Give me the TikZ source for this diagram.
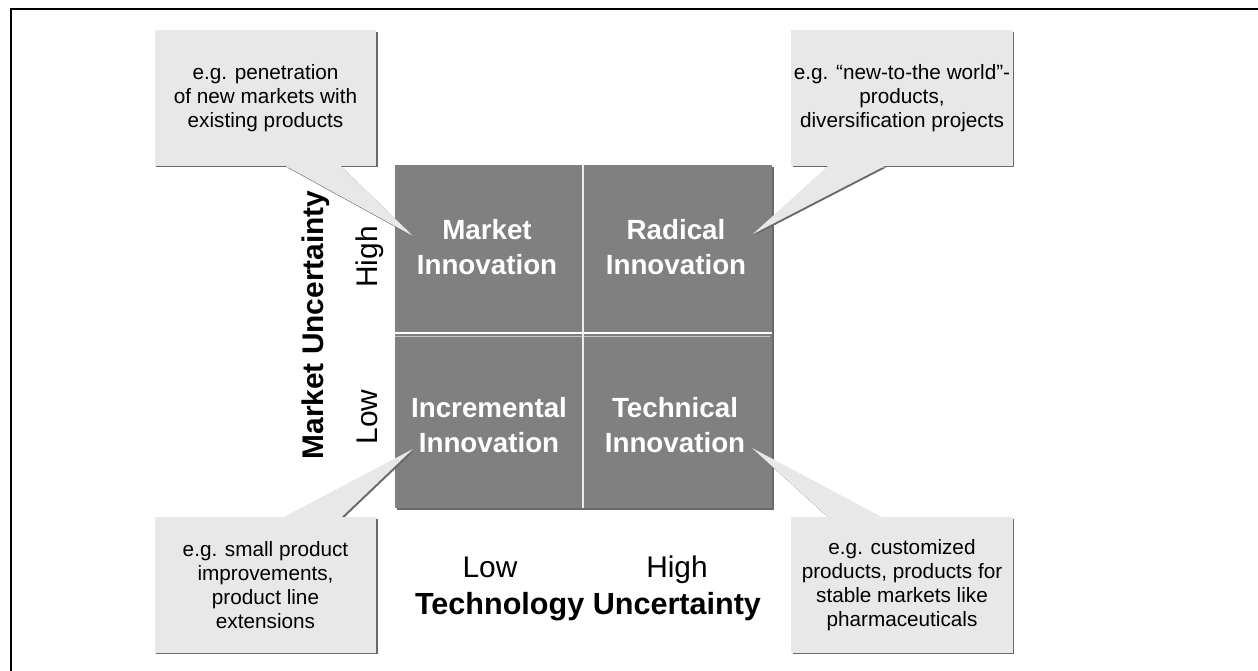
\documentclass[tikz,border=0pt]{standalone}
\usepackage{fontspec}
\setmainfont{Liberation Sans}
\usetikzlibrary{backgrounds,calc}
\definecolor{cellgray}{HTML}{808080}
\definecolor{notegray}{HTML}{E8E8E8}
\definecolor{shadegray}{HTML}{6A6A6A}
\definecolor{linegray}{HTML}{C4C4C4}
\tikzset{
  cell/.style={text=white, align=center,
    font=\fontsize{15.8}{19.8}\selectfont\bfseries},
  note/.style={align=center, minimum width=4.42cm, minimum height=2.7cm,
    inner sep=0pt, font=\fontsize{11.8}{13.6}\selectfont},
  axis/.style={font=\fontsize{17}{20}\selectfont},
  axis title/.style={font=\fontsize{17}{20}\selectfont\bfseries},
  shade/.style={fill=shadegray,
    transform canvas={xshift=0.03cm, yshift=-0.03cm}}
}

\begin{document}
\begin{tikzpicture}[x=0.02cm, y=-0.02cm]
\useasboundingbox (0,0) rectangle (1258,671);
\draw[line width=0.9pt] (11,671) -- (11,9) -- (1258,9);

% the four cells
\coordinate (nw) at (395,165);
\coordinate (se) at (772,508);
\coordinate (midW) at (395,333);
\coordinate (midE) at (772,333);
\coordinate (midN) at (583,165);
\coordinate (midS) at (583,508);
\node[cell] (mkt) at (487,247) {Market\\Innovation};
\node[cell] (rad) at (676,247) {Radical\\Innovation};
\node[cell] (inc) at (489,425) {Incremental\\Innovation};
\node[cell] (tec) at (675,425) {Technical\\Innovation};

% axes
\node[axis title, rotate=90, anchor=base] (mktAxis) at (323,325) {Market Uncertainty};
\node[axis, rotate=90, anchor=base] (mktHigh) at (377,257) {High};
\node[axis, rotate=90, anchor=base] (mktLow) at (377,417) {Low};
\node[axis, anchor=base] (tecLow) at (490,578) {Low};
\node[axis, anchor=base] (tecHigh) at (677,578) {High};
\node[axis title, font=\fontsize{17.4}{20}\selectfont\bfseries, anchor=base]
  (tecAxis) at (588,615) {Technology Uncertainty};

% callouts
\node[note] (tl) at (265.5,98) {e.g. penetration\\of new markets with\\existing products};
\node[note] (tr) at (902,98) {e.g. “new-to-the world”-\\products,\\diversification projects};
\node[note] (bl) at (265.5,585) {e.g. small product\\improvements,\\product line\\extensions};
\node[note] (br) at (902,585) {e.g. customized\\products, products for\\stable markets like\\pharmaceuticals};
\coordinate (tip-tl) at (413,236);
\coordinate (tip-tr) at (753,234);
\coordinate (tip-bl) at (413,449);
\coordinate (tip-br) at (752,448);

\begin{scope}[on background layer]
\fill[shadegray] ($(nw)+(2,2)$) rectangle ($(se)+(2,2)$);
\fill[cellgray] (nw) rectangle (se);
\draw[white, line width=1pt] (midW) -- (midE);
\draw[linegray, line width=1pt] ($(midW)+(0,3.5)$) -- ($(midE)+(-2,3.5)$);
\draw[white!85!gray, line width=1.2pt] (midN) -- (midS);
\foreach \n/\s/\a/\b in {tl/south/20/75, tr/south/-74/-17,
    bl/north/18/76, br/north/-74/-20} {
  \fill[shade] (\n.south west) rectangle (\n.north east);
  \fill[shade] ($(\n.\s)+(\a,0)$) -- (tip-\n) -- ($(\n.\s)+(\b,0)$) -- cycle;
}
\foreach \n/\s/\a/\b in {tl/south/20/75, tr/south/-74/-17,
    bl/north/18/76, br/north/-74/-20} {
  \fill[notegray] (\n.south west) rectangle (\n.north east);
  \fill[notegray] ($(\n.\s)+(\a,0)$) -- (tip-\n) -- ($(\n.\s)+(\b,0)$) -- cycle;
}
\end{scope}
\end{tikzpicture}
\end{document}
